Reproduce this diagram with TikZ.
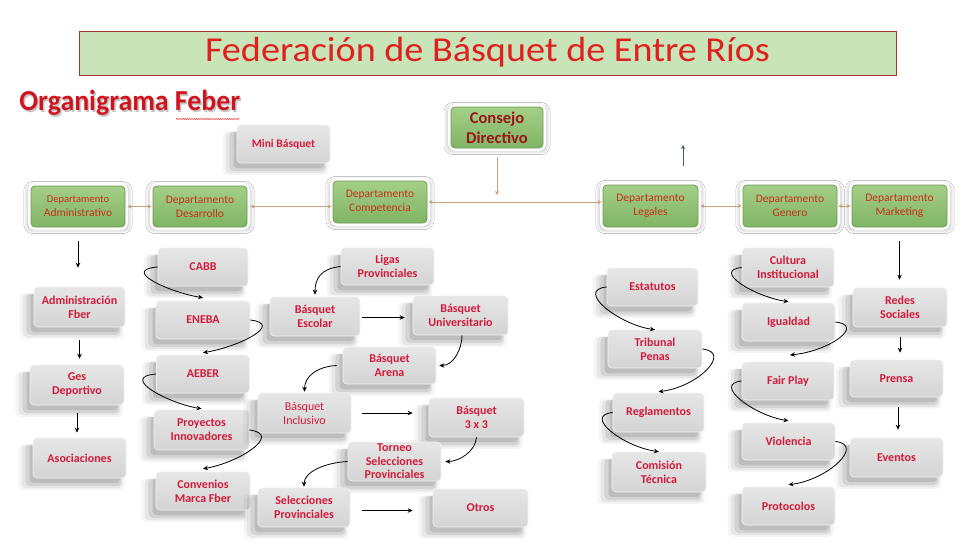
\documentclass[tikz,border=0pt]{standalone}
\usepackage{fontspec}
\setmainfont{Carlito}
\usetikzlibrary{arrows.meta,shadows,shadows.blur,decorations.pathmorphing}
\definecolor{titlebg}{HTML}{C8E4B8}
\definecolor{titleedge}{HTML}{A8342E}
\definecolor{titletext}{HTML}{E0201E}
\definecolor{orgtext}{HTML}{D0141E}
\definecolor{gtext}{HTML}{D41A3A}
\definecolor{gtop}{HTML}{E6E6E6}
\definecolor{gbot}{HTML}{D4D4D4}
\definecolor{gedge}{HTML}{F2F2F2}
\definecolor{dtop}{HTML}{A4CF88}
\definecolor{dbot}{HTML}{80B464}
\definecolor{dedge}{HTML}{6C9C52}
\definecolor{dtext}{HTML}{C8301C}
\definecolor{ctext}{HTML}{9A1616}
\definecolor{tan}{HTML}{C8A27E}
\definecolor{slate}{HTML}{4A5A70}
\tikzset{
  sz/.style 2 args={minimum width=#1pt, minimum height=#2pt},
  softshadow/.style={
    general shadow={fill=black, opacity=0.04, shadow xshift=-7pt, shadow yshift=-8pt, shadow scale=1.14},
    general shadow={fill=black, opacity=0.06, shadow xshift=-7pt, shadow yshift=-8pt, shadow scale=1.08},
    general shadow={fill=black, opacity=0.08, shadow xshift=-6pt, shadow yshift=-7pt, shadow scale=1.03},
    general shadow={fill=black, opacity=0.10, shadow xshift=-5pt, shadow yshift=-6pt, shadow scale=0.97}},
  gbox/.style={rectangle, rounded corners=4pt, softshadow, top color=gtop, bottom color=gbot,
    draw=gedge, line width=0.6pt, text=gtext, align=center, inner sep=1pt,
    font=\fontsize{12}{14}\selectfont\bfseries},
  dbox/.style={rectangle, rounded corners=4pt, top color=dtop, bottom color=dbot,
    draw=dedge, line width=0.8pt, text=dtext, align=center, inner sep=1pt,
    font=\fontsize{11.5}{14}\selectfont,
    blur shadow={shadow xshift=0pt, shadow yshift=-1pt, shadow blur radius=4pt, shadow opacity=35, shadow scale=1.06},
    preaction={draw=white, line width=6pt}},
  carrow/.style={draw=black, line width=0.8pt, -{Stealth[length=5pt,width=4.5pt]}},
  tarrow/.style={draw=tan, line width=0.9pt, {Stealth[length=4pt,width=4pt]}-{Stealth[length=4pt,width=4pt]}},
  tdown/.style={draw=tan, line width=0.9pt, -{Stealth[length=4pt,width=4pt]}},
  barrow/.style={draw=slate, line width=0.9pt, -{Stealth[length=4pt,width=4pt]}},
}
\begin{document}
\begin{tikzpicture}[x=1pt,y=-1pt]
\useasboundingbox (0,0) rectangle (972,555);
\fill[white] (0,0) rectangle (972,555);

% title
\node[rectangle, fill=titlebg, draw=titleedge, line width=1pt, sz={817}{44}] (title) at (487.5,53) {};
\node[text=titletext, font=\fontsize{35}{40}\selectfont, xscale=1.09] (titletxt) at (487.5,52) {Federación de Básquet de Entre Ríos};

% Organigrama
\node[anchor=west, text=black!45, opacity=0.5, font=\fontsize{29}{32}\selectfont\bfseries, xscale=0.96] (orgshadow) at (17.5,104.5) {Organigrama Feber};
\node[anchor=west, text=orgtext, font=\fontsize{29}{32}\selectfont\bfseries, xscale=0.96] (org) at (16,103) {Organigrama Feber};
\coordinate (wav1) at (176,119);
\coordinate (wav2) at (240,119);
\draw[red!80, line width=0.4pt, decorate, decoration={snake, amplitude=0.7pt, segment length=2.2pt}] (wav1) -- (wav2);

% Consejo
\node[dbox, sz={92}{41}, text=ctext, font=\fontsize{16.5}{20}\selectfont\bfseries] (consejo) at (497,127.5) {Consejo\\Directivo};

% Mini
\node[gbox, sz={93}{38}, font=\fontsize{11.5}{14}\selectfont\bfseries] (mini) at (283.5,144) {Mini Básquet};

% departments
\node[dbox, sz={94}{41}] (dadm) at (78,206.5) {{\fontsize{10.5}{12}\selectfont Departamento}\\Administrativo};
\node[dbox, sz={94}{41}] (ddes) at (200,206.5) {Departamento\\Desarrollo};
\node[dbox, sz={94}{42}] (dcomp) at (380,202) {Departamento\\Competencia};
\node[dbox, sz={95}{42}] (dleg) at (650.5,206) {Departamento\\Legales};
\node[dbox, sz={94}{42}] (dgen) at (790,206) {Departamento\\Genero};
\node[dbox, sz={95}{42}] (dmkt) at (899.5,206) {Departamento\\Marketing};

% left column
\node[gbox, sz={91}{40}] (admfber) at (79.5,307) {Administración\\Fber};
\node[gbox, sz={94}{40}] (ges) at (77,385) {Ges\\Deportivo};
\node[gbox, sz={93}{40}] (asoc) at (79.5,458) {Asociaciones};

% second column
\node[gbox, sz={90}{38}] (cabb) at (203,267) {CABB};
\node[gbox, sz={94}{38}] (eneba) at (203,320) {ENEBA};
\node[gbox, sz={93}{38}] (aeber) at (203,374) {AEBER};
\node[gbox, sz={95}{40}] (proy) at (201.5,430) {Proyectos\\Innovadores};
\node[gbox, sz={94}{38}] (conv) at (203,491) {Convenios\\Marca Fber};

% third column
\node[gbox, sz={93}{37}] (ligas) at (387.5,266.5) {Ligas\\Provinciales};
\node[gbox, sz={90}{39}] (escolar) at (315,316.5) {Básquet\\Escolar};
\node[gbox, sz={95}{39}] (univ) at (460.5,315.5) {Básquet\\Universitario};
\node[gbox, sz={93}{37}] (arena) at (389.5,365.5) {Básquet\\Arena};
\node[gbox, sz={93}{40}, font=\fontsize{12}{14}\selectfont] (incl) at (304.5,413) {Básquet\\Inclusivo};
\node[gbox, sz={95}{39}] (t3x3) at (476.5,417.5) {Básquet\\3 x 3};
\node[gbox, sz={93}{39}, font=\fontsize{12}{13.5}\selectfont\bfseries] (torneo) at (394.5,461.5) {Torneo\\Selecciones\\Provinciales};
\node[gbox, sz={92}{39}] (selec) at (304,507.5) {Selecciones\\Provinciales};
\node[gbox, sz={95}{38}] (otros) at (480.5,508) {Otros};

% right part
\node[gbox, sz={91}{38}] (estat) at (652.5,287) {Estatutos};
\node[gbox, sz={94}{38}] (trib) at (655,349) {Tribunal\\Penas};
\node[gbox, sz={91}{39}] (regl) at (658.5,412.5) {Reglamentos};
\node[gbox, sz={94}{40}] (comi) at (659,472) {Comisión\\Técnica};
\node[gbox, sz={92}{39}] (cult) at (788,267.5) {Cultura\\Institucional};
\node[gbox, sz={93}{38}] (igual) at (788.5,322) {Igualdad};
\node[gbox, sz={92}{38}] (fair) at (788,381) {Fair Play};
\node[gbox, sz={93}{37}] (viol) at (788.5,441.5) {Violencia};
\node[gbox, sz={93}{38}] (prot) at (788.5,506) {Protocolos};
\node[gbox, sz={94}{39}] (redes) at (900,307.5) {Redes\\Sociales};
\node[gbox, sz={93}{37}] (prensa) at (896.5,378.5) {Prensa};
\node[gbox, sz={93}{39}] (event) at (896.5,457.5) {Eventos};

% department connectors
\draw[tarrow, shorten <=2pt, shorten >=1pt] (dadm.east) -- (ddes.west);
\draw[tarrow, shorten <=3pt, shorten >=1pt] (ddes.east) -- (ddes.east -| dcomp.west);
\draw[tarrow, shorten <=1pt, shorten >=1pt] (dcomp.east) -- (dcomp.east -| dleg.west);
\draw[tarrow, shorten <=2pt, shorten >=1pt] (dleg.east) -- (dgen.west);
\draw[tarrow, shorten <=1pt, shorten >=1pt] (dgen.east) -- (dmkt.west);
\draw[tdown, shorten <=9pt, shorten >=7pt] (consejo.south) -- (consejo.south |- dcomp.east);
\coordinate (bl1) at (683,166);
\coordinate (bl2) at (683,145);
\draw[barrow] (bl1) -- (bl2);

% left column arrows
\draw[carrow, shorten <=14pt, shorten >=19pt] (dadm.south) -- (dadm.south |- admfber.north);
\draw[carrow, shorten <=13pt, shorten >=6pt] (admfber.south) -- (admfber.south |- ges.north);
\draw[carrow, shorten <=8pt, shorten >=5pt] (ges.south) -- (ges.south |- asoc.north);

% second column curves
\draw[carrow] (cabb.west) .. controls +(-38,3) and +(-32,-5) .. ([yshift=3pt]eneba.north);
\draw[carrow] (eneba.east) .. controls +(34,4) and +(36,-6) .. ([yshift=2pt]aeber.north);
\draw[carrow] (aeber.west) .. controls +(-38,3) and +(-32,-5) .. ([yshift=1pt]proy.north);
\draw[carrow] (proy.east) .. controls +(34,4) and +(36,-6) .. ([yshift=3pt]conv.north);

% third column
\draw[carrow] (ligas.west) .. controls +(-20,2) and +(0,-16) .. ([yshift=2pt]escolar.north);
\draw[carrow, shorten <=2pt, shorten >=8pt] ([yshift=-1pt]escolar.east) -- ([yshift=-1pt]escolar.east -| univ.west);
\draw[carrow] ([xshift=1.5pt]univ.south) .. controls +(0,14) and +(14,0) .. ([xshift=3pt]arena.east);
\draw[carrow] ([xshift=-6pt]arena.west) .. controls +(-20,1) and +(0,-15) .. ([yshift=1pt]incl.north);
\draw[carrow, shorten <=11pt, shorten >=16pt] (incl.east) -- (incl.east -| t3x3.west);
\draw[carrow] (t3x3.south) .. controls +(-1,14) and +(14,0) .. ([xshift=4pt]torneo.east);
\draw[carrow] (torneo.west) .. controls +(-22,1) and +(0,-15) .. ([yshift=1pt]selec.north);
\draw[carrow, shorten <=12pt, shorten >=20pt] ([yshift=-3pt]selec.east) -- ([yshift=-3pt]selec.east -| otros.west);

% right part
\draw[carrow] (estat.west) .. controls +(-32,3) and +(-36,-5) .. (trib.north);
\draw[carrow] (trib.east) .. controls +(30,3) and +(40,-5) .. ([yshift=1pt]regl.north);
\draw[carrow] (regl.west) .. controls +(-30,3) and +(-36,-5) .. (comi.north);
\draw[carrow] (cult.west) .. controls +(-30,3) and +(-34,-5) .. ([yshift=1pt]igual.north);
\coordinate (igend) at (790,355);
\draw[carrow] (igual.east) .. controls +(30,3) and +(40,-4) .. (igend);
\draw[carrow] (fair.west) .. controls +(-30,3) and +(-34,-5) .. ([yshift=2pt]viol.north);
\draw[carrow] (viol.east) .. controls +(30,3) and +(40,-5) .. ([yshift=2pt]prot.north);

\draw[carrow, shorten <=14pt, shorten >=8pt] (dmkt.south) -- (dmkt.south |- redes.north);
\draw[carrow, shorten <=10pt, shorten >=7pt] (redes.south) -- (redes.south |- prensa.north);
\draw[carrow, shorten <=10pt, shorten >=8pt] ([xshift=1.5pt]prensa.south) -- ([xshift=1.5pt]prensa.south |- event.north);
\end{tikzpicture}
\end{document}
